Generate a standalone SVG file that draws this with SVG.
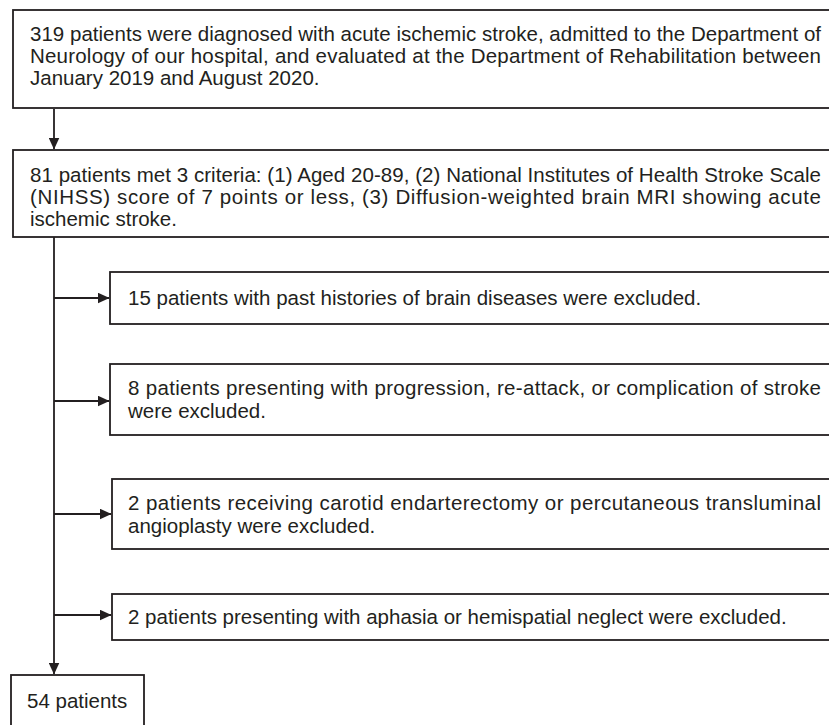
<svg xmlns="http://www.w3.org/2000/svg" width="829" height="725" viewBox="0 0 829 725">
<defs>
<style>
.box{fill:#fff;stroke:#231f20;stroke-width:1.8}
.t{font-family:"Liberation Sans",Arial,sans-serif;font-size:20.5px;fill:#231f20}
.c{fill:none;stroke:#231f20;stroke-width:1.8}
</style>
<marker id="ah" markerWidth="12" markerHeight="11" refX="11.5" refY="5.5" orient="auto" markerUnits="userSpaceOnUse">
<path d="M0,0 L12,5.5 L0,11 z" fill="#231f20"/>
</marker>
</defs>
<rect width="829" height="725" fill="#fff"/>
<g id="connectors">
<line class="c" x1="54" y1="109" x2="54" y2="149" marker-end="url(#ah)"/>
<line class="c" x1="54" y1="237" x2="54" y2="674" marker-end="url(#ah)"/>
<line class="c" x1="54" y1="298" x2="109" y2="298" marker-end="url(#ah)"/>
<line class="c" x1="54" y1="401" x2="109" y2="401" marker-end="url(#ah)"/>
<line class="c" x1="54" y1="514" x2="111" y2="514" marker-end="url(#ah)"/>
<line class="c" x1="54" y1="615" x2="111" y2="615" marker-end="url(#ah)"/>
</g>
<g id="n1">
<rect class="box" x="13" y="10" width="830" height="98"/>
<text class="t" x="30" y="41" textLength="791" lengthAdjust="spacing">319 patients were diagnosed with acute ischemic stroke, admitted to the Department of</text>
<text class="t" x="30" y="63" textLength="791" lengthAdjust="spacing">Neurology of our hospital, and evaluated at the Department of Rehabilitation between</text>
<text class="t" x="30" y="85">January 2019 and August 2020.</text>
</g>
<g id="n2">
<rect class="box" x="13" y="150" width="830" height="87"/>
<text class="t" x="30" y="182" textLength="791" lengthAdjust="spacing">81 patients met 3 criteria: (1) Aged 20-89, (2) National Institutes of Health Stroke Scale</text>
<text class="t" x="30" y="204" textLength="791" lengthAdjust="spacing">(NIHSS) score of 7 points or less, (3) Diffusion-weighted brain MRI showing acute</text>
<text class="t" x="30" y="226">ischemic stroke.</text>
</g>
<g id="n3">
<rect class="box" x="110" y="272" width="730" height="52"/>
<text class="t" x="128" y="305">15 patients with past histories of brain diseases were excluded.</text>
</g>
<g id="n4">
<rect class="box" x="110" y="364" width="730" height="71"/>
<text class="t" x="128" y="395" textLength="693" lengthAdjust="spacing">8 patients presenting with progression, re-attack, or complication of stroke</text>
<text class="t" x="128" y="418">were excluded.</text>
</g>
<g id="n5">
<rect class="box" x="112" y="479" width="730" height="70"/>
<text class="t" x="128" y="510" textLength="693" lengthAdjust="spacing">2 patients receiving carotid endarterectomy or percutaneous transluminal</text>
<text class="t" x="128" y="533">angioplasty were excluded.</text>
</g>
<g id="n6">
<rect class="box" x="112" y="594" width="730" height="46"/>
<text class="t" x="128" y="624">2 patients presenting with aphasia or hemispatial neglect were excluded.</text>
</g>
<g id="n7">
<rect class="box" x="11" y="675" width="133" height="60"/>
<text class="t" x="27" y="708">54 patients</text>
</g>
</svg>
